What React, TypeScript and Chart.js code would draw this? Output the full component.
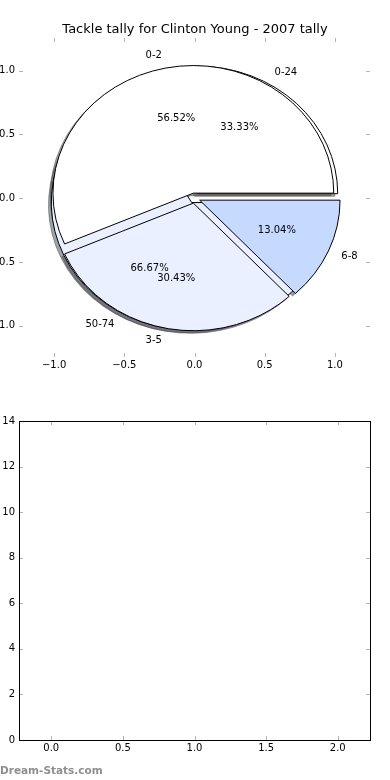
import React, { useEffect, useRef } from 'react';
import { Chart, registerables } from 'chart.js';

Chart.register(...registerables);

const TITLE = 'Tackle tally for Clinton Young - 2007 tally';
const WATERMARK = 'Dream-Stats.com';

const outerLabels = ['0-24', '50-74'];
const outerValues = [1, 2];
const outerColors = ['#FFFFFF', '#EAF0FF'];

const innerLabels = ['0-2', '3-5', '6-8'];
const innerValues = [13, 7, 3];
const innerColors = ['#FFFFFF', '#EAF0FF', '#C6D9FF'];

const EXPLODE = 0.04;

const pieXTicks = [-1, -0.5, 0, 0.5, 1];
const pieYTicks = [-1, -0.5, 0, 0.5, 1];
const barXTicks = [0, 0.5, 1, 1.5, 2];
const barYTicks = [0, 2, 4, 6, 8, 10, 12, 14];

const FONT = '"DejaVu Sans", "Liberation Sans", sans-serif';

function fmt(v: number, d: number) {
  return Number(v).toFixed(d).replace('-', '\u2212');
}

type Wedge = {
  t1: number; t2: number; mid: number; cx: number; cy: number;
  color: string; label: string; pct: string;
};

function buildWedges(values: number[], colors: string[], labels: string[]): Wedge[] {
  const total = values.reduce((a, b) => a + b, 0);
  let start = 0;
  return values.map((v, i) => {
    const t1 = start;
    const t2 = start + (360 * v) / total;
    start = t2;
    const mid = (((t1 + t2) / 2) * Math.PI) / 180;
    return {
      t1, t2, mid,
      cx: EXPLODE * Math.cos(mid),
      cy: EXPLODE * Math.sin(mid),
      color: colors[i],
      label: labels[i],
      pct: ((100 * v) / total).toFixed(2) + '%',
    };
  });
}

function hexRgb(h: string) {
  const n = parseInt(h.slice(1), 16);
  return [(n >> 16) & 255, (n >> 8) & 255, n & 255];
}

function wedgePath(ctx: CanvasRenderingContext2D, xs: any, ys: any, w: Wedge, dx: number, dy: number) {
  const px = xs.getPixelForValue(w.cx + dx);
  const py = ys.getPixelForValue(w.cy + dy);
  const rx = xs.getPixelForValue(w.cx + dx + 1) - px;
  const ry = py - ys.getPixelForValue(w.cy + dy + 1);
  const a1 = (w.t1 * Math.PI) / 180;
  const a2 = (w.t2 * Math.PI) / 180;
  ctx.beginPath();
  ctx.moveTo(px, py);
  ctx.lineTo(px + rx * Math.cos(a1), py - ry * Math.sin(a1));
  ctx.ellipse(px, py, rx, ry, 0, -a1, -a2, true);
  ctx.closePath();
}

const piePlugin = {
  id: 'mplPie',
  afterDraw(chart: any, _args: any, opts: any) {
    if (!opts || !opts.pies) return;
    const ctx: CanvasRenderingContext2D = chart.ctx;
    const xs = chart.scales.x;
    const ys = chart.scales.y;
    const pies: Wedge[][] = opts.pies.map((p: any) => buildWedges(p.values, p.colors, p.labels));
    ctx.save();
    ctx.lineWidth = 1;
    ctx.lineJoin = 'miter';
    // shadows
    pies.forEach((ws) => ws.forEach((w) => {
      const [r, g, b] = hexRgb(w.color);
      const c = `rgba(${Math.round(r * 0.3)},${Math.round(g * 0.3)},${Math.round(b * 0.3)},0.5)`;
      wedgePath(ctx, xs, ys, w, -0.02, -0.02);
      ctx.fillStyle = c;
      ctx.fill();
      ctx.strokeStyle = c;
      ctx.stroke();
    }));
    // wedges
    pies.forEach((ws) => ws.forEach((w) => {
      wedgePath(ctx, xs, ys, w, 0, 0);
      ctx.fillStyle = w.color;
      ctx.fill();
      ctx.strokeStyle = '#000';
      ctx.stroke();
    }));
    // texts
    ctx.fillStyle = '#000';
    ctx.font = `10px ${FONT}`;
    ctx.textBaseline = 'middle';
    pies.forEach((ws) => ws.forEach((w) => {
      const xt = w.cx + 1.1 * Math.cos(w.mid);
      const yt = w.cy + 1.1 * Math.sin(w.mid);
      ctx.textAlign = xt > 0 ? 'left' : 'right';
      ctx.fillText(w.label, xs.getPixelForValue(xt), ys.getPixelForValue(yt));
      const xp = w.cx + 0.6 * Math.cos(w.mid);
      const yp = w.cy + 0.6 * Math.sin(w.mid);
      ctx.textAlign = 'center';
      ctx.fillText(w.pct, xs.getPixelForValue(xp), ys.getPixelForValue(yp));
    }));
    ctx.restore();
  },
};

const framePlugin = {
  id: 'mplFrame',
  afterDraw(chart: any, _args: any, opts: any) {
    const ctx: CanvasRenderingContext2D = chart.ctx;
    const a = chart.chartArea;
    const xs = chart.scales.x;
    const ys = chart.scales.y;
    ctx.save();
    ctx.lineWidth = 1;
    ctx.strokeStyle = '#b5b5b5';
    const L = 4;
    xs.ticks.forEach((t: any) => {
      const x = Math.round(xs.getPixelForValue(t.value)) + 0.5;
      ctx.beginPath();
      ctx.moveTo(x, a.bottom);
      ctx.lineTo(x, a.bottom - L);
      ctx.moveTo(x, a.top);
      ctx.lineTo(x, a.top + L);
      ctx.stroke();
    });
    ys.ticks.forEach((t: any) => {
      const y = Math.round(ys.getPixelForValue(t.value)) + 0.5;
      ctx.beginPath();
      ctx.moveTo(a.left, y);
      ctx.lineTo(a.left + L, y);
      ctx.moveTo(a.right, y);
      ctx.lineTo(a.right - L, y);
      ctx.stroke();
    });
    if (opts && opts.frame) {
      ctx.strokeStyle = '#000';
      ctx.strokeRect(a.left + 0.5, a.top + 0.5, a.right - a.left, a.bottom - a.top);
    }
    if (opts && opts.watermark) {
      ctx.fillStyle = '#8f8f8f';
      ctx.font = `bold 10.5px ${FONT}`;
      ctx.textAlign = 'left';
      ctx.textBaseline = 'alphabetic';
      ctx.fillText(opts.watermark, 0, opts.watermarkY);
    }
    ctx.restore();
  },
};

function axis(min: number, max: number, ticks: number[], dec: number, horiz: boolean, size: number) {
  return {
    type: 'linear' as const,
    min,
    max,
    grid: { display: false, drawTicks: false },
    border: { display: false },
    afterBuildTicks: (s: any) => {
      s.ticks = ticks.map((v) => ({ value: v }));
    },
    afterFit: (s: any) => {
      if (horiz) s.height = size;
      else s.width = size;
    },
    ticks: {
      callback: (v: any) => fmt(Number(v), dec),
      font: { family: FONT, size: 10 },
      color: '#000',
      padding: horiz ? 2 : 4,
      maxRotation: 0,
      minRotation: 0,
      autoSkip: false,
    },
  };
}

// empty right-hand spacer axis so the axes box sits where matplotlib put it
function rightSpacer() {
  return {
    type: 'linear' as const,
    position: 'right' as const,
    display: true,
    grid: { display: false, drawTicks: false },
    border: { display: false },
    ticks: { display: false },
    afterFit: (s: any) => {
      s.width = 20;
    },
  };
}

export default function App() {
  const topRef = useRef<HTMLCanvasElement>(null);
  const botRef = useRef<HTMLCanvasElement>(null);

  useEffect(() => {
    const top = new Chart(topRef.current!, {
      type: 'scatter',
      data: { datasets: [{ data: [] }] },
      plugins: [framePlugin, piePlugin],
      options: {
        animation: false,
        responsive: false,
        maintainAspectRatio: false,
        layout: { padding: 0 },
        plugins: {
          legend: { display: false },
          tooltip: { enabled: false },
          title: {
            display: true,
            text: TITLE,
            color: '#000',
            font: { family: FONT, size: 13, weight: 'normal' },
            padding: { top: 22.2, bottom: 0.2 },
          },
          mplFrame: { frame: false },
          mplPie: {
            pies: [
              { values: outerValues, colors: outerColors, labels: outerLabels },
              { values: innerValues, colors: innerColors, labels: innerLabels },
            ],
          },
        } as any,
        scales: {
          x: axis(-1.25, 1.25, pieXTicks, 1, true, 33),
          y: axis(-1.245, 1.255, pieYTicks, 1, false, 19),
          yR: rightSpacer(),
        } as any,
      },
    });
    const bot = new Chart(botRef.current!, {
      type: 'scatter',
      data: { datasets: [{ data: [] }] },
      plugins: [framePlugin],
      options: {
        animation: false,
        responsive: false,
        maintainAspectRatio: false,
        layout: { padding: { left: 0, right: 0, top: 31, bottom: 0 } },
        plugins: {
          legend: { display: false },
          tooltip: { enabled: false },
          mplFrame: { frame: true, watermark: WATERMARK, watermarkY: 384 },
        } as any,
        scales: {
          x: axis(-0.225, 2.225, barXTicks, 1, true, 40),
          y: axis(0, 14, barYTicks, 0, false, 19),
          yR: rightSpacer(),
        } as any,
      },
    });
    return () => {
      top.destroy();
      bot.destroy();
    };
  }, []);

  return (
    <div style={{ position: 'absolute', left: 0, top: 0, width: 390, height: 780, background: '#fff' }}>
      <canvas ref={topRef} width={390} height={390} style={{ display: 'block', width: 390, height: 390 }} />
      <canvas ref={botRef} width={390} height={390} style={{ display: 'block', width: 390, height: 390 }} />
    </div>
  );
}
